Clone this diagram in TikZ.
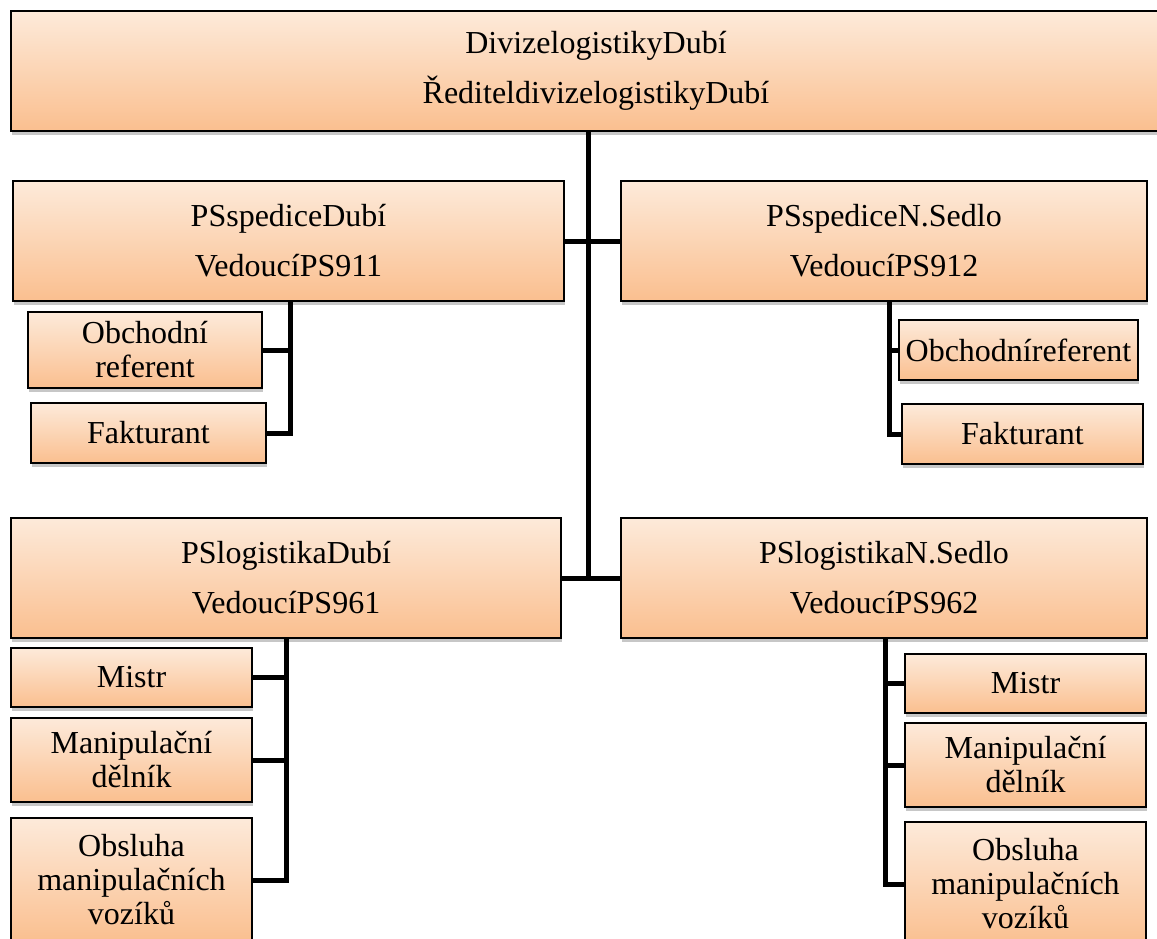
\documentclass[tikz,border=0pt]{standalone}
\usepackage{fontspec}
\setmainfont{Liberation Serif}
\usetikzlibrary{shadows}
\definecolor{peachtop}{RGB}{253,234,218}
\definecolor{peachbot}{RGB}{250,191,143}
\tikzset{
  unit/.style={draw=black, line width=2.5pt, rectangle, inner sep=0pt, outer sep=0pt,
    anchor=north west, align=center, top color=peachtop, bottom color=peachbot,
    drop shadow={shadow xshift=1pt, shadow yshift=-4pt, opacity=0.22, fill=black}},
  bigtext/.style={font=\fontsize{32}{50}\selectfont},
  smalltext/.style={font=\fontsize{32}{34}\selectfont},
  conn/.style={line width=5pt, draw=black, line join=miter},
}
\begin{document}
\begin{tikzpicture}[x=1pt, y=-1pt]
\useasboundingbox (0,0) rectangle (1157,938);
\clip (0,0) rectangle (1157,938);

% division head
\node[unit, bigtext, minimum width=1170pt, minimum height=120pt] (top) at (11,11)
  {DivizelogistikyDubí\\ŘediteldivizelogistikyDubí};

% forwarding units
\node[unit, bigtext, minimum width=551pt, minimum height=120pt] (spedL) at (13,181)
  {PSspediceDubí\\VedoucíPS911};
\node[unit, bigtext, minimum width=526pt, minimum height=120pt] (spedR) at (621,181)
  {PSspediceN.Sedlo\\VedoucíPS912};

\node[unit, smalltext, minimum width=234pt, minimum height=76pt] (refL) at (28,312)
  {Obchodní\\referent};
\node[unit, smalltext, minimum width=235pt, minimum height=60pt] (fakL) at (31,403)
  {Fakturant};
\node[unit, smalltext, minimum width=239pt, minimum height=60pt] (refR) at (899,320)
  {Obchodníreferent};
\node[unit, smalltext, minimum width=241pt, minimum height=60pt] (fakR) at (902,404)
  {Fakturant};

% logistics units
\node[unit, bigtext, minimum width=550pt, minimum height=120pt] (logL) at (11,518)
  {PSlogistikaDubí\\VedoucíPS961};
\node[unit, bigtext, minimum width=526pt, minimum height=120pt] (logR) at (621,518)
  {PSlogistikaN.Sedlo\\VedoucíPS962};

\node[unit, smalltext, minimum width=241pt, minimum height=59pt] (mistL) at (11,648)
  {Mistr};
\node[unit, smalltext, minimum width=241pt, minimum height=84pt] (manL) at (11,718)
  {Manipulační\\dělník};
\node[unit, smalltext, minimum width=241pt, minimum height=124pt] (obsL) at (11,818)
  {Obsluha\\manipulačních\\vozíků};
\node[unit, smalltext, minimum width=241pt, minimum height=59pt] (mistR) at (905,654)
  {Mistr};
\node[unit, smalltext, minimum width=241pt, minimum height=84pt] (manR) at (905,723)
  {Manipulační\\dělník};
\node[unit, smalltext, minimum width=241pt, minimum height=124pt] (obsR) at (905,822)
  {Obsluha\\manipulačních\\vozíků};

% trunk lines
\coordinate (trunk) at (588,0);
\coordinate (sl) at (290,0);
\coordinate (sr) at (889,0);
\coordinate (ll) at (286,0);
\coordinate (lr) at (885,0);

\draw[conn] (top.south -| trunk) -- (logL.east -| trunk);
\draw[conn] (spedL.east) -- (spedR.west);
\draw[conn] (logL.east) -- (logR.west);

\draw[conn] (spedL.south -| sl) |- (fakL.east);
\draw[conn] (refL.east) -- (refL.east -| sl);

\draw[conn] (spedR.south -| sr) |- (fakR.west);
\draw[conn] (refR.west) -- (refR.west -| sr);

\draw[conn] (logL.south -| ll) |- (obsL.east);
\draw[conn] (mistL.east) -- (mistL.east -| ll);
\draw[conn] (manL.east) -- (manL.east -| ll);

\draw[conn] (logR.south -| lr) |- (obsR.west);
\draw[conn] (mistR.west) -- (mistR.west -| lr);
\draw[conn] (manR.west) -- (manR.west -| lr);
\end{tikzpicture}
\end{document}
